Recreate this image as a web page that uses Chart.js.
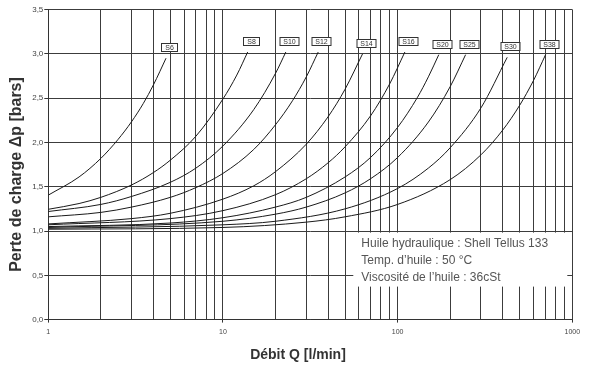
<!DOCTYPE html>
<html>
<head>
<meta charset="utf-8">
<script src="https://cdn.jsdelivr.net/npm/chart.js@4.4.1/dist/chart.umd.min.js"></script>
<style>
  html, body { margin: 0; padding: 0; background: #fff; }
</style>
</head>
<body>
<canvas id="chart" width="591" height="366"></canvas>
<script>
// débit Q [l/min] / perte de charge [bars]
const qS6 = [1, 1.5, 2, 2.5, 3, 3.5, 4, 4.72];
const dpS6 = [1.405, 1.61, 1.82, 2.03, 2.235, 2.44, 2.65, 2.95];
const qS8 = [1, 1.5, 2, 3, 4, 5, 7, 10, 12, 13.85];
const dpS8 = [1.245, 1.31, 1.38, 1.52, 1.66, 1.80, 2.07, 2.49, 2.76, 3.02];
const qS10 = [1, 2, 3, 5, 7, 10, 15, 20, 22.9];
const dpS10 = [1.22, 1.30, 1.39, 1.55, 1.71, 1.96, 2.37, 2.78, 3.02];
const qS12 = [1, 2, 3, 5, 7, 10, 15, 20, 25, 30, 35.1];
const dpS12 = [1.16, 1.21, 1.27, 1.38, 1.49, 1.65, 1.92, 2.20, 2.47, 2.74, 3.02];
const qS14 = [1, 3, 5, 10, 15, 20, 30, 40, 50, 63];
const dpS14 = [1.08, 1.14, 1.20, 1.36, 1.51, 1.67, 1.98, 2.29, 2.60, 3.0];
const qS16 = [1, 5, 10, 20, 30, 40, 50, 70, 90, 110];
const dpS16 = [1.07, 1.14, 1.23, 1.41, 1.59, 1.77, 1.95, 2.30, 2.66, 3.02];
const qS20 = [1, 5, 10, 20, 30, 50, 70, 100, 130, 150, 172];
const dpS20 = [1.05, 1.09, 1.15, 1.27, 1.38, 1.61, 1.83, 2.17, 2.51, 2.74, 2.99];
const qS25 = [1, 10, 20, 30, 50, 70, 100, 150, 200, 245];
const dpS25 = [1.04, 1.11, 1.19, 1.27, 1.43, 1.59, 1.83, 2.23, 2.63, 2.99];
const qS30 = [1, 10, 20, 50, 100, 150, 200, 300, 424];
const dpS30 = [1.03, 1.07, 1.11, 1.25, 1.48, 1.71, 1.94, 2.39, 2.96];
const qS38 = [1, 10, 30, 50, 100, 200, 300, 400, 500, 600, 703];
const dpS38 = [1.02, 1.04, 1.10, 1.16, 1.30, 1.58, 1.86, 2.14, 2.42, 2.70, 2.99];

const curveNames = ['S6', 'S8', 'S10', 'S12', 'S14', 'S16', 'S20', 'S25', 'S30', 'S38'];
const curveQ = [qS6, qS8, qS10, qS12, qS14, qS16, qS20, qS25, qS30, qS38];
const curveDp = [dpS6, dpS8, dpS10, dpS12, dpS14, dpS16, dpS20, dpS25, dpS30, dpS38];

const xTickLabels = [1, 10, 100, 1000];
const yTicks = [0, 0.5, 1, 1.5, 2, 2.5, 3, 3.5];
const noteLines = [
  'Huile hydraulique : Shell Tellus 133',
  'Temp. d\u2019huile : 50 \u00b0C',
  'Viscosit\u00e9 de l\u2019huile : 36cSt'
];

const FONT = '"Liberation Sans", Arial, Helvetica, sans-serif';

// grille log : 1..9, 10..90, 100..1000
const xGrid = [];
[1, 10, 100].forEach(d => {
  for (let i = 1; i < 10; i++) xGrid.push(i * d);
});
xGrid.push(1000);

const datasets = curveNames.map((name, i) => ({
  label: name,
  data: curveQ[i].map((q, j) => ({ x: q, y: curveDp[i][j] })),
  showLine: true,
  borderColor: '#1a1a1a',
  borderWidth: 1,
  pointRadius: 0,
  cubicInterpolationMode: 'monotone',
  fill: false
}));

// étiquettes S6..S38 au bout des courbes
const curveLabels = {
  id: 'curveLabels',
  afterDatasetsDraw(chart) {
    const ctx = chart.ctx;
    ctx.save();
    ctx.font = '7px ' + FONT;
    ctx.textAlign = 'center';
    ctx.textBaseline = 'middle';
    chart.data.datasets.forEach((ds, i) => {
      const pts = chart.getDatasetMeta(i).data;
      const last = pts[pts.length - 1];
      const w = Math.round(ctx.measureText(ds.label).width + 7);
      const h = 8;
      const cx = Math.round(last.x + 3);
      const cy = Math.round(last.y - 11);
      ctx.fillStyle = '#fff';
      ctx.fillRect(cx - w / 2, cy - h / 2, w, h);
      ctx.strokeStyle = '#333';
      ctx.lineWidth = 1;
      ctx.strokeRect(cx - w / 2 + 0.5, cy - h / 2 + 0.5, w, h);
      ctx.fillStyle = '#333';
      ctx.fillText(ds.label, cx + 0.5, cy + 1);
    });
    ctx.restore();
  }
};

// cadre d'info huile + titres des axes
const extras = {
  id: 'extras',
  afterDraw(chart) {
    const ctx = chart.ctx;
    const a = chart.chartArea;
    ctx.save();
    ctx.fillStyle = '#fff';
    ctx.fillRect(a.right - 219, a.bottom - 87, 214, 54);
    ctx.fillStyle = '#555';
    ctx.font = '12px ' + FONT;
    ctx.textBaseline = 'middle';
    noteLines.forEach((t, i) => {
      ctx.fillText(t, a.right - 211, a.bottom - 76 + i * 17);
    });

    ctx.fillStyle = '#333';
    ctx.font = 'bold 14px ' + FONT;
    ctx.textAlign = 'center';
    ctx.fillText('D\u00e9bit Q [l/min]', 298, 355);
    ctx.font = 'bold 16px ' + FONT;
    ctx.translate(17, 174.5);
    ctx.rotate(-Math.PI / 2);
    ctx.fillText('Perte de charge \u0394p [bars]', 0, 0);
    ctx.restore();
  }
};

new Chart(document.getElementById('chart'), {
  type: 'scatter',
  data: { datasets: datasets },
  options: {
    responsive: false,
    animation: false,
    devicePixelRatio: 1,
    layout: { padding: { top: 9.5, right: 18.7, left: 0, bottom: 0 } },
    plugins: { legend: { display: false }, tooltip: { enabled: false } },
    scales: {
      x: {
        type: 'logarithmic',
        min: 1,
        max: 1000,
        afterFit(scale) { scale.height = 46.4; },
        afterBuildTicks(scale) {
          scale.ticks = xGrid.map(v => ({ value: v, major: xTickLabels.includes(v) }));
        },
        border: { display: true, color: '#333', width: 1 },
        grid: {
          color: '#3c3c3c',
          lineWidth: 1,
          tickLength: 3,
          tickColor: c => (c.tick && xTickLabels.includes(c.tick.value)) ? '#333' : 'rgba(0,0,0,0)'
        },
        ticks: {
          autoSkip: false,
          maxRotation: 0,
          padding: 5,
          color: '#444',
          font: { family: FONT, size: 7 },
          callback: v => xTickLabels.includes(v) ? String(v) : ''
        }
      },
      y: {
        min: 0,
        max: 3.5,
        afterFit(scale) { scale.width = 48.3; },
        afterBuildTicks(scale) {
          scale.ticks = yTicks.map(v => ({ value: v }));
        },
        border: { display: true, color: '#333', width: 1 },
        grid: { color: '#3c3c3c', lineWidth: 1, tickLength: 4, tickColor: '#333' },
        ticks: {
          padding: 1,
          color: '#444',
          font: { family: FONT, size: 8 },
          callback: v => v.toFixed(1).replace('.', ',')
        }
      }
    }
  },
  plugins: [curveLabels, extras]
});
</script>
</body>
</html>
